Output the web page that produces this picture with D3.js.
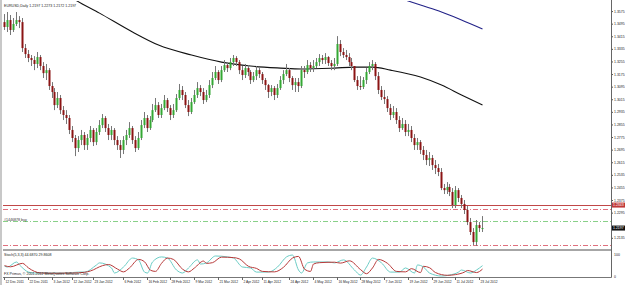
<!DOCTYPE html>
<html>
<head>
<meta charset="UTF-8">
<title>EURUSD Daily</title>
<script src="https://cdn.jsdelivr.net/npm/d3@7.8.5/dist/d3.min.js"></script>
<style>
    body { margin: 0; background: #fff; }
    text { font-family: "Liberation Sans", Arial, sans-serif; }
</style>
</head>
<body>
<div id="chart"></div>
<script>
// daily candles, 12 Dec 2011 .. 25 Jul 2012 (open = previous close)
const firstOpen = 1.3505;
const closes = [
    1.3474,1.3518,1.3455,1.3493,1.3518,1.3505,1.3340,1.3302,1.3277,1.3264,
    1.3239,1.3283,1.3226,1.3181,1.3200,1.3099,1.3061,1.2978,1.3023,1.2946,
    1.2915,1.2896,1.2820,1.2769,1.2705,1.2756,1.2788,1.2724,1.2769,1.2820,
    1.2743,1.2807,1.2851,1.2896,1.2832,1.2788,1.2820,1.2756,1.2724,1.2693,
    1.2756,1.2788,1.2832,1.2756,1.2705,1.2769,1.2851,1.2896,1.2832,1.2883,
    1.2946,1.2978,1.2915,1.2959,1.3010,1.2959,1.2915,1.2946,1.3023,1.3074,
    1.3042,1.2978,1.2934,1.2997,1.3042,1.3086,1.3061,1.3010,1.3042,1.3105,
    1.3150,1.3188,1.3137,1.3200,1.3232,1.3213,1.3251,1.3277,1.3251,1.3200,
    1.3169,1.3213,1.3188,1.3137,1.3162,1.3200,1.3175,1.3137,1.3105,1.3061,
    1.3086,1.3042,1.3086,1.3137,1.3175,1.3200,1.3150,1.3105,1.3124,1.3099,
    1.3200,1.3188,1.3232,1.3213,1.3226,1.3251,1.3277,1.3264,1.3283,1.3245,
    1.3226,1.3239,1.3366,1.3315,1.3296,1.3283,1.3251,1.3226,1.3137,1.3099,
    1.3093,1.3137,1.3188,1.3226,1.3239,1.3162,1.3074,1.3029,1.3016,1.2959,
    1.2915,1.2934,1.2883,1.2832,1.2858,1.2807,1.2820,1.2769,1.2724,1.2743,
    1.2693,1.2661,1.2629,1.2642,1.2597,1.2578,1.2553,1.2451,1.2438,1.2458,
    1.2426,1.2343,1.2438,1.2388,1.2350,1.2312,1.2235,1.2172,1.2108,1.2216,
    1.2197,1.2197
];
const highs = [
    1.3556,1.3569,1.3550,1.3531,1.3569,1.3543,1.3531,1.3366,1.3328,1.3296,
    1.3289,1.3315,1.3296,1.3251,1.3239,1.3213,1.3124,1.3086,1.3061,1.3042,
    1.2972,1.2946,1.2915,1.2845,1.2788,1.2781,1.2820,1.2807,1.2794,1.2845,
    1.2832,1.2832,1.2883,1.2921,1.2908,1.2858,1.2845,1.2832,1.2781,1.2756,
    1.2781,1.2820,1.2870,1.2845,1.2781,1.2807,1.2883,1.2934,1.2915,1.2908,
    1.2985,1.3023,1.2997,1.2985,1.3042,1.3023,1.2978,1.2985,1.3048,1.3112,
    1.3099,1.3061,1.3010,1.3023,1.3074,1.3124,1.3105,1.3086,1.3074,1.3137,
    1.3188,1.3226,1.3200,1.3226,1.3264,1.3251,1.3277,1.3296,1.3289,1.3264,
    1.3226,1.3239,1.3232,1.3200,1.3188,1.3226,1.3213,1.3188,1.3150,1.3112,
    1.3105,1.3099,1.3112,1.3162,1.3200,1.3239,1.3213,1.3162,1.3150,1.3150,
    1.3226,1.3226,1.3264,1.3251,1.3264,1.3277,1.3302,1.3296,1.3308,1.3289,
    1.3264,1.3277,1.3416,1.3391,1.3340,1.3328,1.3308,1.3277,1.3213,1.3162,
    1.3162,1.3156,1.3213,1.3251,1.3264,1.3251,1.3188,1.3099,1.3074,1.3035,
    1.2985,1.2972,1.2959,1.2908,1.2896,1.2883,1.2858,1.2845,1.2794,1.2769,
    1.2756,1.2718,1.2693,1.2680,1.2661,1.2629,1.2604,1.2578,1.2477,1.2489,
    1.2477,1.2451,1.2464,1.2451,1.2407,1.2375,1.2337,1.2261,1.2197,1.2248,
    1.2235,1.2273
];
const lows = [
    1.3455,1.3442,1.3423,1.3442,1.3480,1.3467,1.3315,1.3277,1.3251,1.3226,
    1.3200,1.3213,1.3200,1.3150,1.3137,1.3074,1.3023,1.2946,1.2959,1.2921,
    1.2883,1.2858,1.2794,1.2743,1.2654,1.2680,1.2724,1.2693,1.2693,1.2743,
    1.2718,1.2724,1.2788,1.2832,1.2807,1.2756,1.2756,1.2724,1.2693,1.2642,
    1.2667,1.2724,1.2769,1.2731,1.2680,1.2693,1.2756,1.2832,1.2807,1.2820,
    1.2870,1.2934,1.2896,1.2896,1.2946,1.2934,1.2883,1.2896,1.2934,1.3010,
    1.3010,1.2959,1.2908,1.2921,1.2985,1.3023,1.3035,1.2985,1.2997,1.3023,
    1.3086,1.3137,1.3112,1.3124,1.3188,1.3188,1.3200,1.3226,1.3226,1.3175,
    1.3137,1.3150,1.3162,1.3112,1.3124,1.3137,1.3150,1.3112,1.3074,1.3023,
    1.3035,1.3010,1.3023,1.3074,1.3112,1.3162,1.3124,1.3074,1.3061,1.3061,
    1.3086,1.3150,1.3175,1.3188,1.3188,1.3213,1.3226,1.3239,1.3239,1.3226,
    1.3200,1.3200,1.3226,1.3289,1.3277,1.3264,1.3226,1.3200,1.3124,1.3074,
    1.3074,1.3080,1.3112,1.3175,1.3200,1.3137,1.3048,1.3010,1.2985,1.2934,
    1.2883,1.2896,1.2858,1.2807,1.2820,1.2781,1.2781,1.2743,1.2693,1.2693,
    1.2667,1.2629,1.2597,1.2591,1.2566,1.2540,1.2527,1.2438,1.2413,1.2413,
    1.2400,1.2324,1.2324,1.2362,1.2324,1.2286,1.2216,1.2153,1.2089,1.2083,
    1.2172,1.2172
];

// moving averages: [bar index, price]
const maBlack = [[19,1.3708],[24,1.3645],[32,1.3562],[43,1.3442],[52,1.3359],[63,1.3296],
    [73,1.3251],[83,1.3226],[93,1.3213],[100,1.3207],[111,1.3213],[118,1.3219],[124,1.3219],
    [130,1.3200],[140,1.3156],[147,1.3105],[154,1.3042],[161,1.2978]];
const maBlue = [[126,1.3702],[135,1.3645],[140,1.3613],[147,1.3569],[154,1.3518],[161,1.3461]];

// stochastic (5,3,3): [bar index, value]
const stochMain = [[0,43],[1,39],[4,61],[5,48],[8,17],[10,13],[15,13],[21,13],[25,17],[27,17],
    [31,48],[32,57],[36,35],[37,13],[40,39],[43,78],[45,70],[47,17],[48,13],[50,61],[53,83],
    [55,78],[58,26],[60,13],[62,35],[65,70],[66,52],[68,57],[71,87],[75,83],[77,78],[80,39],
    [83,35],[85,17],[89,17],[92,39],[95,83],[97,91],[99,26],[100,13],[102,57],[104,61],[109,61],
    [111,57],[114,70],[118,26],[120,4],[122,39],[124,78],[127,57],[130,17],[133,17],[135,35],
    [138,13],[139,48],[141,39],[143,13],[147,0],[150,4],[153,17],[154,26],[157,13],[159,26],[161,45]];
const stochSignal = [[0,45],[2,40],[6,55],[8,35],[10,20],[12,13],[17,12],[23,13],[27,16],[29,22],
    [33,45],[35,50],[38,30],[40,18],[42,35],[45,72],[47,62],[49,25],[51,20],[53,55],[55,78],
    [57,72],[60,30],[62,18],[64,35],[67,65],[68,55],[70,58],[73,82],[77,80],[79,74],[82,42],
    [85,33],[87,20],[91,18],[94,38],[97,78],[99,85],[101,30],[103,20],[104,52],[106,58],[111,60],
    [113,56],[116,66],[120,28],[122,10],[124,35],[126,72],[129,55],[132,20],[135,18],[137,32],
    [140,15],[141,42],[143,36],[145,15],[149,3],[152,6],[155,17],[156,24],[159,15],[161,30]];

// horizontal levels
const hLine = 1.2343;
const tpLevel = 1.2318;
const entryLevel = 1.2242;
const slLevel = 1.2089;

const priceTicks = [1.3575,1.3495,1.3415,1.3335,1.3255,1.3175,1.3095,1.3015,1.2935,1.2855,
    1.2775,1.2695,1.2615,1.2535,1.2455,1.2375,1.2295,1.2215,1.2135];
const dateTicks = ["12 Dec 2011","22 Dec 2011","3 Jan 2012","12 Jan 2012","23 Jan 2012","6 Feb 2012",
    "16 Feb 2012","28 Feb 2012","9 Mar 2012","21 Mar 2012","2 Apr 2012","11 Apr 2012","24 Apr 2012",
    "4 May 2012","16 May 2012","28 May 2012","7 Jun 2012","19 Jun 2012","29 Jun 2012","11 Jul 2012","23 Jul 2012"];

const width = 625, height = 285;
const left = 3, right = 611, mainTop = 1, mainBottom = 249, subBottom = 277;
const N = closes.length;
const opens = closes.map((c, i) => i ? closes[i - 1] : firstOpen);
const f4 = d3.format('.4f');

const dates = d3.timeDays(new Date(2011, 11, 12), new Date(2012, 7, 1))
    .filter(d => d.getDay() !== 0 && d.getDay() !== 6).slice(0, N);
const fmt = d3.timeFormat("%-d %b %Y");

const x = d3.scaleBand().domain(d3.range(N)).range([2.5, 2.5 + N * 2.97]);
const cx = i => Math.round(x(i) + x.bandwidth() / 2) + 0.5;
const y = d3.scaleLinear().domain([1.2064, 1.3639]).range([mainBottom, mainTop]);
const ys = d3.scaleLinear().domain([0, 100]).range([276, 253]);

const svg = d3.select('#chart').append('svg')
    .attr('width', width).attr('height', height);

svg.append('rect').attr('width', width).attr('height', height).attr('fill', '#fff');
svg.append('rect').attr('x', 0).attr('y', 0).attr('width', 2).attr('height', height).attr('fill', '#c8c8c8');

svg.append('clipPath').attr('id', 'mainclip').append('rect')
    .attr('x', left).attr('y', mainTop).attr('width', right - left).attr('height', mainBottom - mainTop);

const main = svg.append('g').attr('clip-path', 'url(#mainclip)');

// level lines
const hl = (v, color, dash, w) => main.append('line')
    .attr('x1', left).attr('x2', right)
    .attr('y1', Math.round(y(v)) + 0.5).attr('y2', Math.round(y(v)) + 0.5)
    .attr('stroke', color).attr('stroke-width', w || 1)
    .attr('stroke-dasharray', dash);
hl(hLine, '#c04848', null, 1.2);
hl(tpLevel, '#e0707e', '5,2,1,2');
hl(entryLevel, '#88d088', '5,2,1,2');
hl(slLevel, '#e0707e', '5,2,1,2');

main.append('text').attr('x', 4).attr('y', Math.round(y(entryLevel)) - 0.5)
    .attr('font-size', 3.6).attr('fill', '#333').text('#1446878 buy');

// moving averages
const maLine = d3.line().x(d => cx(d[0])).y(d => y(d[1])).curve(d3.curveMonotoneX);
main.append('path').attr('d', maLine(maBlack)).attr('fill', 'none')
    .attr('stroke', '#111').attr('stroke-width', 1.1);
main.append('path').attr('d', maLine(maBlue)).attr('fill', 'none')
    .attr('stroke', '#222288').attr('stroke-width', 1.1);

// candles
const candles = main.append('g');
d3.range(N).forEach(i => {
    const o = opens[i], c = closes[i];
    const hi = Math.max(highs[i], o, c), lo = Math.min(lows[i], o, c);
    const up = c >= o;
    candles.append('line')
        .attr('x1', cx(i)).attr('x2', cx(i))
        .attr('y1', y(hi)).attr('y2', y(lo))
        .attr('stroke', '#777').attr('stroke-width', 1);
    const top = y(Math.max(o, c)), bot = y(Math.min(o, c));
    candles.append('rect')
        .attr('x', cx(i) - 1).attr('width', 2)
        .attr('y', top).attr('height', Math.max(1, bot - top))
        .attr('fill', up ? '#34a834' : '#8b1414');
});

svg.append('text').attr('x', 4).attr('y', 6.5).attr('font-size', 3.6).attr('fill', '#222')
    .text('EURUSD,Daily  ' + [opens[N - 1], highs[N - 1], lows[N - 1], closes[N - 1]].map(f4).join(' '));

// price axis (tick labels next to the two value tags are left out)
const tags = [hLine, closes[N - 1]];
const shownTicks = priceTicks.filter(t => tags.every(v => Math.abs(y(t) - y(v)) > 5));
const yAxis = d3.axisRight(y).tickValues(shownTicks).tickFormat(f4).tickSize(2).tickPadding(1);
const ga = svg.append('g').attr('transform', `translate(${right},0)`).call(yAxis);
ga.select('.domain').remove();
ga.selectAll('line').attr('stroke', '#555');
ga.selectAll('text').attr('font-size', 3.5).attr('fill', '#222');

// axis value tags
const tag = (v, bg) => {
    const yy = y(v);
    svg.append('rect').attr('x', right + 1).attr('y', yy - 2.5).attr('width', 13).attr('height', 5).attr('fill', bg);
    svg.append('text').attr('x', right + 2).attr('y', yy + 1.3).attr('font-size', 3.5).attr('fill', '#fff').text(f4(v));
};
tag(hLine, '#c03838');
tag(closes[N - 1], '#111');

// stochastic panel
const stLine = d3.line().x(d => cx(d[0])).y(d => ys(d[1])).curve(d3.curveMonotoneX);
svg.append('path').attr('d', stLine(stochMain)).attr('fill', 'none')
    .attr('stroke', '#6ccdc6').attr('stroke-width', 1);
svg.append('path').attr('d', stLine(stochSignal)).attr('fill', 'none')
    .attr('stroke', '#b83a3a').attr('stroke-width', 1);

svg.append('text').attr('x', 4).attr('y', 256).attr('font-size', 3.6).attr('fill', '#222')
    .text('Stoch(5,3,3) ' + f4(44.6870) + ' ' + f4(29.8608));
svg.append('text').attr('x', 4).attr('y', 275).attr('font-size', 3.6).attr('fill', '#222')
    .text('FX Primus, \u00a9 2001-2012 MetaQuotes Software Corp.');

svg.append('text').attr('x', right + 3).attr('y', 256).attr('font-size', 3.5).attr('fill', '#222').text('100');
svg.append('text').attr('x', right + 3).attr('y', 278).attr('font-size', 3.5).attr('fill', '#222').text('0');

// frame
svg.append('line').attr('x1', left).attr('x2', right).attr('y1', 250).attr('y2', 250)
    .attr('stroke', '#888').attr('stroke-width', 1.5);
svg.append('line').attr('x1', left).attr('x2', right + 0.5).attr('y1', subBottom + 0.5).attr('y2', subBottom + 0.5)
    .attr('stroke', '#777');
svg.append('line').attr('x1', right + 0.5).attr('x2', right + 0.5).attr('y1', 0).attr('y2', subBottom + 0.5)
    .attr('stroke', '#666');

// date axis
const dateIdx = dateTicks.map(t => dates.findIndex(d => fmt(d) === t));
const gx = svg.append('g');
dateIdx.forEach((i, k) => {
    if (i < 0) return;
    gx.append('line').attr('x1', cx(i)).attr('x2', cx(i)).attr('y1', subBottom).attr('y2', subBottom + 3)
        .attr('stroke', '#666');
    gx.append('text').attr('x', cx(i) + 1).attr('y', 283).attr('font-size', 3.3).attr('fill', '#222')
        .text(dateTicks[k]);
});
</script>
</body>
</html>
